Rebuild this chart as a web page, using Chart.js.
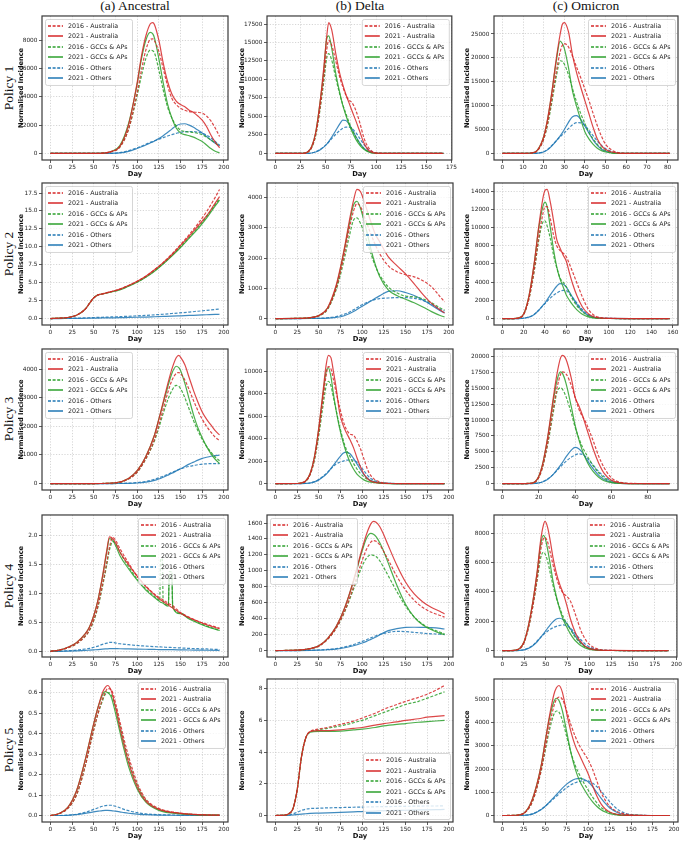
<!DOCTYPE html>
<html><head><meta charset="utf-8">
<script src="https://cdn.jsdelivr.net/npm/chart.js@4.4.1/dist/chart.umd.min.js"></script>
<style>
body{margin:0;background:#fff;width:685px;height:842px;position:relative;overflow:hidden;}
canvas{position:absolute;}
.ct{position:absolute;top:-1px;font-family:'Liberation Serif',serif;font-size:13.5px;line-height:14px;color:#111;transform:translateX(-50%);white-space:nowrap;}
.rl{position:absolute;left:9px;font-family:'Liberation Serif',serif;font-size:13.5px;color:#111;transform:translate(-50%,-50%) rotate(-90deg);white-space:nowrap;}
</style></head><body>
<div class="ct" style="left:135px">(a) Ancestral</div>
<div class="ct" style="left:360px">(b) Delta</div>
<div class="ct" style="left:586px">(c) Omicron</div>
<div class="rl" style="top:88px">Policy 1</div>
<div class="rl" style="top:254px">Policy 2</div>
<div class="rl" style="top:419px">Policy 3</div>
<div class="rl" style="top:586px">Policy 4</div>
<div class="rl" style="top:750px">Policy 5</div>
<script>
// ---------- series labels ----------
const LABELS = ['2016 - Australia','2021 - Australia','2016 - GCCs & APs','2021 - GCCs & APs','2016 - Others','2021 - Others'];

// ---------- tick labels ----------
const X_200 = [0,25,50,75,100,125,150,175,200];
const X_175 = [0,25,50,75,100,125,150,175];
const X_80s10 = [0,10,20,30,40,50,60,70,80];
const X_160 = [0,20,40,60,80,100,120,140,160];
const X_80s20 = [0,20,40,60,80];
const Y_A1 = [0,2000,4000,6000,8000];
const Y_B1 = [0,2500,5000,7500,10000,12500,15000,17500];
const Y_C1 = [0,5000,10000,15000,20000,25000];
const Y_A2 = [0,2.5,5,7.5,10,12.5,15,17.5];
const Y_B2 = [0,1000,2000,3000,4000];
const Y_C2 = [0,2000,4000,6000,8000,10000,12000,14000];
const Y_A3 = [0,1000,2000,3000,4000];
const Y_B3 = [0,2000,4000,6000,8000,10000,12000];
const Y_C3 = [0,2500,5000,7500,10000,12500,15000,17500,20000];
const Y_A4 = [0,0.5,1,1.5,2];
const Y_B4 = [0,200,400,600,800,1000,1200,1400,1600];
const Y_C4 = [0,2000,4000,6000,8000];
const Y_A5 = [0,0.1,0.2,0.3,0.4,0.5,0.6];
const Y_B5 = [0,2,4,6,8];
const Y_C5 = [0,1000,2000,3000,4000,5000];

// ---------- Policy 1 ----------
const A1_day   = [0,25,50,60,70,80,90,100,105,110,115,118,120,125,130,135,140,145,150,155,160,165,170,175,180,185,190,195];
const A1_aus16 = [0,0,0,20,120,450,1700,4300,5900,7300,8050,8100,7950,7200,6000,4800,3900,3450,3200,3050,2950,2920,2900,2850,2650,2300,1800,1200];
const A1_aus21 = [0,0,0,20,130,500,2000,5000,6900,8300,9150,9250,9100,8000,6400,5100,4200,3700,3450,3300,3050,2900,2650,2350,1900,1300,800,400];
const A1_gcc16 = [0,0,0,20,120,450,1700,4100,5500,6700,7300,7250,7100,5900,4500,3300,2500,1950,1650,1550,1520,1480,1420,1330,1150,950,750,550];
const A1_gcc21 = [0,0,0,20,140,550,2100,4900,6700,8000,8550,8450,8150,6700,5000,3500,2500,1800,1450,1330,1250,1150,1000,850,600,350,150,50];
const A1_oth16 = [0,0,0,0,10,60,200,400,520,650,780,850,900,1000,1120,1230,1330,1420,1500,1530,1550,1540,1500,1430,1300,1100,850,600];
const A1_oth21 = [0,0,0,0,5,40,150,350,470,600,740,820,880,1050,1250,1480,1720,1950,2080,2100,2000,1850,1650,1450,1200,950,720,550];

const B1_day   = [0,20,28,32,36,40,44,48,51,53,56,60,64,67,70,73,76,80,84,88,92,96,100,110,130,167];
const B1_aus16 = [0,0,25,180,800,2500,5800,10200,14000,15300,14600,12500,10300,9000,7900,7200,6900,5800,4100,2100,900,300,80,10,0,0];
const B1_aus21 = [0,0,30,200,900,2800,6500,11500,15800,17700,16700,13500,10800,9300,8000,6900,5800,4400,2900,1400,500,150,40,5,0,0];
const B1_gcc16 = [0,0,25,170,780,2400,5600,9600,12900,13500,12600,10200,8000,6600,5400,4300,3300,2200,1300,650,280,100,30,3,0,0];
const B1_gcc21 = [0,0,30,200,900,2800,6500,11000,15500,15900,14200,10800,8200,6500,5200,4000,3000,1900,1100,550,250,80,20,2,0,0];
const B1_oth16 = [0,0,0,5,80,230,500,900,1250,1550,2000,2600,3100,3400,3550,3550,3400,2800,2000,1200,600,250,80,5,0,0];
const B1_oth21 = [0,0,0,10,60,200,450,850,1250,1600,2200,3100,4000,4500,4450,4000,3300,2300,1400,700,300,100,30,2,0,0];

const C1_day   = [0,10,14,17,20,22,24,26,28,29,30,32,34,36,38,40,42,44,46,48,50,53,56,60,70,81];
const C1_aus16 = [0,0,80,600,3000,6500,11500,16800,21300,22600,23000,22300,20300,18000,15800,13400,11000,8300,5800,3600,1900,700,200,30,0,0];
const C1_aus21 = [0,0,100,700,3500,7500,13000,19500,25000,27000,27400,25500,20500,16800,13800,11000,8200,5400,3000,1600,850,300,80,10,0,0];
const C1_gcc16 = [0,0,80,600,3000,6200,10800,15800,19400,19300,18700,16500,13500,10700,8300,6200,4400,3000,1900,1100,600,200,50,5,0,0];
const C1_gcc21 = [0,0,100,700,3500,7300,12800,19000,23500,23000,22000,18000,13000,9800,7000,4500,3000,1900,1100,600,300,80,20,2,0,0];
const C1_oth16 = [0,0,0,60,350,900,1700,2600,3500,3900,4300,5200,6000,6450,6400,5800,4800,3700,2600,1700,1000,400,120,20,0,0];
const C1_oth21 = [0,0,0,50,300,800,1600,2600,3700,4300,5000,6500,7700,7900,7100,5700,4200,2800,1700,900,450,150,40,5,0,0];

// ---------- Policy 2 ----------
const A2_day   = [0,10,20,30,40,45,50,55,60,70,80,90,100,110,120,130,140,150,160,170,180,190,195];
const A2_aus16 = [0,0.05,0.15,0.45,1.3,2.1,2.9,3.3,3.45,3.75,4.1,4.6,5.2,5.9,6.8,7.8,9.0,10.3,11.7,13.2,14.9,16.9,18.0];
const A2_aus21 = [0,0.05,0.15,0.45,1.3,2.1,2.9,3.3,3.45,3.75,4.1,4.6,5.2,5.9,6.8,7.8,8.9,10.2,11.5,12.9,14.3,16.1,17.0];
const A2_gcc16 = [0,0.05,0.15,0.45,1.3,2.1,2.9,3.3,3.45,3.72,4.05,4.55,5.1,5.8,6.65,7.65,8.8,10.0,11.3,12.7,14.2,15.9,16.7];
const A2_gcc21 = [0,0.05,0.15,0.45,1.3,2.1,2.9,3.3,3.42,3.7,4.0,4.5,5.05,5.75,6.6,7.6,8.7,9.9,11.2,12.5,14.0,15.7,16.5];
const A2_oth16 = [0,0.01,0.03,0.06,0.09,0.11,0.14,0.16,0.18,0.22,0.27,0.32,0.38,0.44,0.52,0.6,0.7,0.8,0.9,1.02,1.14,1.26,1.32];
const A2_oth21 = [0,0,0.01,0.02,0.04,0.05,0.06,0.07,0.08,0.1,0.12,0.15,0.18,0.21,0.25,0.29,0.33,0.38,0.43,0.48,0.53,0.58,0.6];

const B2_day   = [0,25,40,50,60,70,75,80,85,90,94,98,102,106,110,115,120,130,140,150,160,170,180,190,195];
const B2_aus16 = [0,5,28,90,320,1000,1550,2200,2950,3550,3800,3700,3400,3100,2800,2450,2150,1750,1550,1450,1380,1250,1050,720,550];
const B2_aus21 = [0,5,30,100,350,1100,1700,2400,3200,3900,4270,4200,3900,3550,3200,2800,2550,2050,1750,1480,1150,800,500,280,190];
const B2_gcc16 = [0,4,25,85,300,950,1450,2050,2700,3250,3330,3150,2850,2500,2150,1750,1450,1050,850,740,720,650,520,350,280];
const B2_gcc21 = [0,5,30,100,340,1050,1650,2350,3100,3750,3880,3650,3250,2800,2300,1800,1400,950,760,640,520,380,230,100,50];
const B2_oth16 = [0,0,3,8,25,65,100,150,210,290,360,430,490,540,590,630,660,680,690,690,670,600,470,310,250];
const B2_oth21 = [0,0,2,5,15,40,60,100,160,230,300,370,440,510,580,670,750,900,920,860,760,610,440,260,180];

const C2_day   = [0,10,15,20,25,30,34,38,40,42,45,48,51,54,57,60,63,66,70,75,80,85,90,100,120,157];
const C2_aus16 = [0,0,40,450,2200,5400,8800,11500,12300,12300,11000,9200,8000,7500,7200,6800,6000,5100,3900,2400,1150,450,160,20,0,0];
const C2_aus21 = [0,0,50,500,2500,6200,10000,13200,14100,14200,12800,10800,8700,7800,7000,6300,5000,3800,2500,1300,600,220,70,10,0,0];
const C2_gcc16 = [0,0,40,450,2200,5300,8500,10600,10750,10200,8800,7000,5600,4500,4000,3500,2800,2100,1400,750,330,130,40,5,0,0];
const C2_gcc21 = [0,0,50,500,2500,6100,9800,12300,12800,12300,10000,7600,5700,4400,3500,2600,2000,1500,950,480,210,80,30,3,0,0];
const C2_oth16 = [0,0,0,40,170,480,900,1400,1650,1900,2250,2550,2800,3000,3100,3050,2750,2300,1700,1000,500,200,80,10,0,0];
const C2_oth21 = [0,0,0,30,150,450,900,1450,1700,2050,2600,3100,3550,3850,3800,3450,2900,2300,1550,850,400,160,60,10,0,0];

// ---------- Policy 3 ----------
const A3_day   = [0,25,50,75,90,100,110,120,125,130,135,140,145,148,150,155,160,165,170,175,180,185,190,195];
const A3_aus16 = [0,0,2,25,160,400,870,1550,2050,2600,3150,3600,3850,3880,3850,3620,3280,2900,2550,2250,2000,1800,1620,1500];
const A3_aus21 = [0,0,2,30,180,450,950,1700,2250,2850,3450,4000,4400,4480,4420,4150,3700,3250,2850,2500,2250,2050,1850,1700];
const A3_gcc16 = [0,0,2,25,160,400,860,1500,1950,2450,2900,3250,3430,3400,3320,3000,2600,2200,1850,1550,1300,1100,930,800];
const A3_gcc21 = [0,0,2,30,180,450,950,1700,2250,2800,3350,3850,4100,4050,3950,3500,2950,2400,1950,1600,1300,1050,850,700];
const A3_oth16 = [0,0,0,3,15,35,75,150,200,260,320,390,450,490,510,560,600,630,660,680,690,700,700,700];
const A3_oth21 = [0,0,0,2,8,20,50,110,160,220,290,360,440,490,520,600,680,750,820,880,920,955,980,990];

const B3_day   = [0,25,30,35,40,45,50,55,58,61,64,67,70,74,78,82,86,90,94,98,102,106,110,120,130,150,195];
const B3_aus16 = [0,10,50,220,800,2200,4600,7600,9400,10400,10200,9200,8100,6800,5600,4800,4400,4300,3800,3100,2200,1300,700,150,20,0,0];
const B3_aus21 = [0,10,60,250,900,2400,5000,8300,10300,11400,11200,9900,8500,6300,5200,4500,3900,3200,2300,1500,850,450,220,50,10,0,0];
const B3_gcc16 = [0,8,50,210,800,2100,4300,7000,8500,9100,8700,7600,6500,5100,3900,3000,2400,1800,1300,900,600,380,220,60,10,0,0];
const B3_gcc21 = [0,10,60,240,900,2400,4900,8000,9800,10300,9500,7900,6500,4900,3700,2700,1900,1300,850,550,330,200,120,30,5,0,0];
const B3_oth16 = [0,0,3,20,60,170,370,650,850,1080,1320,1550,1750,1900,2000,2080,2120,2080,1900,1550,1150,750,450,120,25,0,0];
const B3_oth21 = [0,0,2,15,50,150,330,600,800,1050,1350,1650,1950,2350,2700,2800,2650,2250,1750,1250,800,480,280,70,15,0,0];

const C3_day   = [0,10,15,18,20,22,25,28,30,32,33,35,38,40,42,44,46,48,50,53,56,60,65,70,92];
const C3_aus16 = [0,0,30,250,950,2500,6500,11800,15000,17200,17600,17300,15400,13600,11800,10600,9600,8200,6700,4300,2500,900,200,30,0];
const C3_aus21 = [0,0,40,300,1100,2900,7500,13500,17200,19800,20200,19600,16500,13600,12300,10800,9000,7200,5400,3200,1600,520,100,10,0];
const C3_gcc16 = [0,0,30,250,950,2500,6300,11200,14400,15100,14900,13700,11000,8900,7200,5800,4700,3700,2800,1700,900,300,60,10,0];
const C3_gcc21 = [0,0,40,300,1100,2900,7300,13000,16200,17600,17400,15800,12000,9200,7000,5200,3800,2700,1900,1000,450,150,30,5,0];
const C3_oth16 = [0,0,0,40,120,280,750,1450,2050,2650,2950,3500,4200,4500,4700,4600,4200,3600,2900,1900,1100,400,100,15,0];
const C3_oth21 = [0,0,0,30,100,250,700,1450,2150,2900,3300,4200,5300,5700,5500,4900,4000,3100,2300,1300,650,200,40,5,0];

// ---------- Policy 4 ----------
const A4_day   = [0,10,20,30,40,45,50,55,60,65,68,72,76,80,90,100,110,120,126,127,129,130,136,137,140,141,150,160,170,180,195];
const A4_aus16 = [0,0.02,0.06,0.13,0.26,0.37,0.55,0.8,1.15,1.55,1.8,1.97,1.9,1.78,1.53,1.3,1.13,0.99,0.92,0.91,0.9,0.89,0.83,0.82,0.8,0.79,0.67,0.59,0.52,0.47,0.4];
const A4_aus21 = [0,0.02,0.07,0.15,0.3,0.42,0.62,0.9,1.3,1.75,1.98,1.95,1.85,1.72,1.5,1.3,1.12,0.98,0.9,0.89,0.87,0.86,0.8,0.79,0.76,0.75,0.66,0.58,0.52,0.46,0.39];
const A4_gcc16 = [0,0.02,0.06,0.13,0.26,0.36,0.53,0.78,1.12,1.5,1.75,1.9,1.85,1.72,1.47,1.25,1.08,0.95,0.88,1.6,1.6,0.86,0.8,1.38,1.38,0.77,0.66,0.57,0.5,0.44,0.36];
const A4_gcc21 = [0,0.02,0.07,0.15,0.3,0.42,0.62,0.9,1.28,1.72,1.95,1.92,1.8,1.66,1.43,1.23,1.06,0.93,0.86,0.85,0.84,0.83,0.78,1.3,1.3,0.76,0.65,0.56,0.49,0.43,0.36];
const A4_oth16 = [0,0.002,0.01,0.02,0.04,0.05,0.07,0.09,0.12,0.14,0.155,0.155,0.14,0.13,0.115,0.1,0.09,0.08,0.075,0.075,0.073,0.072,0.068,0.067,0.065,0.064,0.058,0.05,0.045,0.04,0.03];
const A4_oth21 = [0,0,0.003,0.008,0.015,0.02,0.025,0.03,0.037,0.042,0.045,0.046,0.045,0.044,0.041,0.038,0.035,0.032,0.03,0.03,0.03,0.03,0.028,0.028,0.027,0.027,0.025,0.022,0.02,0.018,0.015];

const B4_day   = [0,25,40,50,60,70,80,90,100,105,110,113,116,120,125,130,140,150,160,170,180,190,195];
const B4_aus16 = [0,5,25,55,140,280,500,800,1130,1270,1360,1380,1370,1330,1240,1140,930,760,630,540,480,440,420];
const B4_aus21 = [0,5,25,60,150,300,540,880,1280,1460,1590,1620,1610,1560,1450,1320,1070,860,710,610,540,490,460];
const B4_gcc16 = [0,5,25,55,140,280,490,770,1060,1160,1200,1195,1180,1130,1040,940,740,560,420,330,270,230,210];
const B4_gcc21 = [0,5,25,60,150,300,540,870,1250,1410,1470,1460,1430,1360,1240,1100,820,580,420,320,260,215,200];
const B4_oth16 = [0,0,3,7,14,25,45,75,115,135,160,172,185,200,215,228,240,238,228,218,210,205,200];
const B4_oth21 = [0,0,2,5,10,18,35,60,95,115,140,155,170,195,225,250,275,290,292,290,287,278,270];

const C4_day   = [0,10,15,20,25,30,35,40,44,47,49,52,55,58,62,66,70,74,78,82,86,90,95,100,110,125,150,191];
const C4_aus16 = [0,0,25,130,550,1550,3000,4900,6800,7600,7700,7400,6700,5900,5000,4300,3900,3700,3400,2800,2100,1400,800,420,100,10,0,0];
const C4_aus21 = [0,0,30,150,600,1700,3300,5400,7500,8500,8800,8400,7500,6400,5300,4500,3900,3100,2200,1500,950,600,300,150,30,5,0,0];
const C4_gcc16 = [0,0,25,130,550,1550,3000,4800,6300,6700,6600,6100,5300,4500,3600,2900,2300,1850,1450,1050,750,480,250,120,25,3,0,0];
const C4_gcc21 = [0,0,30,150,600,1700,3300,5300,7200,7850,7700,6900,5900,4800,3700,2800,2100,1600,1150,800,550,350,180,80,15,2,0,0];
const C4_oth16 = [0,0,0,15,60,170,360,650,900,1080,1180,1320,1450,1550,1650,1720,1750,1700,1550,1300,1000,750,450,250,60,5,0,0];
const C4_oth21 = [0,0,0,10,50,150,330,600,900,1120,1280,1520,1750,1950,2150,2200,2100,1850,1500,1150,800,550,300,150,30,3,0,0];

// ---------- Policy 5 ----------
const A5_day   = [0,10,20,30,40,45,50,55,60,63,66,70,75,80,85,90,100,110,125,150,175,195];
const A5_aus16 = [0,0.008,0.035,0.1,0.24,0.33,0.42,0.5,0.57,0.6,0.62,0.615,0.55,0.46,0.37,0.29,0.16,0.08,0.035,0.012,0.004,0.002];
const A5_aus21 = [0,0.01,0.04,0.12,0.27,0.36,0.45,0.53,0.6,0.625,0.635,0.61,0.53,0.43,0.34,0.26,0.14,0.07,0.03,0.01,0.003,0.002];
const A5_gcc16 = [0,0.008,0.035,0.1,0.24,0.33,0.42,0.5,0.56,0.59,0.6,0.59,0.53,0.44,0.35,0.27,0.15,0.075,0.03,0.01,0.003,0.002];
const A5_gcc21 = [0,0.01,0.04,0.12,0.27,0.36,0.45,0.53,0.59,0.605,0.6,0.58,0.5,0.41,0.32,0.24,0.13,0.065,0.025,0.008,0.003,0.002];
const A5_oth16 = [0,0,0.002,0.006,0.015,0.022,0.03,0.038,0.045,0.048,0.05,0.05,0.045,0.038,0.03,0.024,0.014,0.008,0.004,0.002,0.001,0.001];
const A5_oth21 = [0,0,0.001,0.004,0.01,0.014,0.018,0.021,0.024,0.025,0.025,0.024,0.021,0.018,0.014,0.011,0.007,0.004,0.002,0.001,0,0];

const B5_day   = [0,10,15,20,25,30,35,40,50,60,75,90,100,115,125,140,150,165,175,185,195];
const B5_aus16 = [0,0.02,0.1,0.4,1.6,3.7,4.9,5.3,5.45,5.55,5.75,5.95,6.15,6.45,6.7,7.0,7.2,7.45,7.65,7.9,8.2];
const B5_aus21 = [0,0.02,0.1,0.4,1.6,3.7,4.9,5.3,5.35,5.35,5.4,5.5,5.55,5.7,5.8,5.9,6.0,6.1,6.2,6.25,6.3];
const B5_gcc16 = [0,0.02,0.1,0.4,1.6,3.7,4.9,5.25,5.4,5.5,5.65,5.85,6.0,6.3,6.5,6.8,7.0,7.2,7.4,7.6,7.8];
const B5_gcc21 = [0,0.02,0.1,0.4,1.6,3.7,4.9,5.25,5.3,5.3,5.32,5.4,5.45,5.55,5.65,5.75,5.8,5.88,5.92,5.96,6.0];
const B5_oth16 = [0,0.01,0.03,0.1,0.2,0.32,0.4,0.44,0.46,0.48,0.5,0.52,0.53,0.55,0.56,0.57,0.58,0.59,0.6,0.6,0.61];
const B5_oth21 = [0,0,0.01,0.03,0.06,0.09,0.11,0.13,0.15,0.17,0.2,0.23,0.25,0.28,0.3,0.32,0.33,0.35,0.36,0.37,0.38];

const C5_day   = [0,15,25,35,45,50,55,60,63,66,70,75,80,85,90,95,100,105,110,115,120,125,135,150,175,195];
const C5_aus16 = [0,8,90,600,1900,2900,3900,4700,5000,5100,5000,4500,3900,3400,3000,2700,2400,2000,1500,1000,650,400,150,30,0,0];
const C5_aus21 = [0,10,100,700,2100,3200,4300,5200,5500,5600,5300,4400,3600,3000,2600,2200,1800,1300,850,500,280,150,40,5,0,0];
const C5_gcc16 = [0,8,90,600,1900,2800,3700,4350,4500,4450,4100,3400,2700,2150,1750,1400,1100,800,550,350,220,130,40,5,0,0];
const C5_gcc21 = [0,10,100,700,2100,3200,4200,4900,5050,4950,4500,3600,2700,2000,1500,1150,850,600,400,250,150,80,20,3,0,0];
const C5_oth16 = [0,0,8,70,260,400,560,730,830,930,1050,1200,1320,1410,1470,1500,1490,1400,1250,1050,820,600,250,40,0,0];
const C5_oth21 = [0,0,5,60,250,400,580,780,900,1020,1180,1350,1480,1570,1600,1560,1450,1250,1000,750,520,330,110,15,0,0];

// ---------- panel table ----------
const panels = [
 {col:0,row:0,day:A1_day,s:[A1_aus16,A1_aus21,A1_gcc16,A1_gcc21,A1_oth16,A1_oth21],xt:X_200,yt:Y_A1,dec:0,leg:'tl'},
 {col:1,row:0,day:B1_day,s:[B1_aus16,B1_aus21,B1_gcc16,B1_gcc21,B1_oth16,B1_oth21],xt:X_175,yt:Y_B1,dec:0,leg:'tr'},
 {col:2,row:0,day:C1_day,s:[C1_aus16,C1_aus21,C1_gcc16,C1_gcc21,C1_oth16,C1_oth21],xt:X_80s10,yt:Y_C1,dec:0,leg:'tr'},
 {col:0,row:1,day:A2_day,s:[A2_aus16,A2_aus21,A2_gcc16,A2_gcc21,A2_oth16,A2_oth21],xt:X_200,yt:Y_A2,dec:1,leg:'tl'},
 {col:1,row:1,day:B2_day,s:[B2_aus16,B2_aus21,B2_gcc16,B2_gcc21,B2_oth16,B2_oth21],xt:X_200,yt:Y_B2,dec:0,leg:'tr'},
 {col:2,row:1,day:C2_day,s:[C2_aus16,C2_aus21,C2_gcc16,C2_gcc21,C2_oth16,C2_oth21],xt:X_160,yt:Y_C2,dec:0,leg:'tr'},
 {col:0,row:2,day:A3_day,s:[A3_aus16,A3_aus21,A3_gcc16,A3_gcc21,A3_oth16,A3_oth21],xt:X_200,yt:Y_A3,dec:0,leg:'tl'},
 {col:1,row:2,day:B3_day,s:[B3_aus16,B3_aus21,B3_gcc16,B3_gcc21,B3_oth16,B3_oth21],xt:X_200,yt:Y_B3,dec:0,leg:'tr'},
 {col:2,row:2,day:C3_day,s:[C3_aus16,C3_aus21,C3_gcc16,C3_gcc21,C3_oth16,C3_oth21],xt:X_80s20,yt:Y_C3,dec:0,leg:'tr'},
 {col:0,row:3,day:A4_day,s:[A4_aus16,A4_aus21,A4_gcc16,A4_gcc21,A4_oth16,A4_oth21],xt:X_200,yt:Y_A4,dec:1,leg:'tr',ymax:2.36},
 {col:1,row:3,day:B4_day,s:[B4_aus16,B4_aus21,B4_gcc16,B4_gcc21,B4_oth16,B4_oth21],xt:X_200,yt:Y_B4,dec:0,leg:'tl'},
 {col:2,row:3,day:C4_day,s:[C4_aus16,C4_aus21,C4_gcc16,C4_gcc21,C4_oth16,C4_oth21],xt:X_200,yt:Y_C4,dec:0,leg:'tr'},
 {col:0,row:4,day:A5_day,s:[A5_aus16,A5_aus21,A5_gcc16,A5_gcc21,A5_oth16,A5_oth21],xt:X_200,yt:Y_A5,dec:1,leg:'tr'},
 {col:1,row:4,day:B5_day,s:[B5_aus16,B5_aus21,B5_gcc16,B5_gcc21,B5_oth16,B5_oth21],xt:X_200,yt:Y_B5,dec:0,leg:'br'},
 {col:2,row:4,day:C5_day,s:[C5_aus16,C5_aus21,C5_gcc16,C5_gcc21,C5_oth16,C5_oth21],xt:X_200,yt:Y_C5,dec:0,leg:'tr'}
];

// ---------- layout & style ----------
const COLS = [{l:42,r:228,yw:25},{l:267,r:453,yw:29},{l:494,r:678,yw:31}];
const ROWS = [{t:15,b:160},{t:182,b:325},{t:348,b:490},{t:514,b:657},{t:678,b:822}];
const XH = 18, PT = 4, PR = 5;
const STY = [
 {c:'214,39,40',dash:true},{c:'214,39,40',dash:false},
 {c:'44,160,44',dash:true},{c:'44,160,44',dash:false},
 {c:'31,119,180',dash:true},{c:'31,119,180',dash:false}];
const DASH = [3,1.6];
const FONT = "'DejaVu Sans', sans-serif";
const colorOf = (i, a) => 'rgba(' + STY[i].c + ',' + a + ')';

const framePlugin = {
  id:'frame',
  afterDatasetsDraw(chart, args, opts){
    const ctx = chart.ctx, a = chart.chartArea, pos = opts.pos || 'tr';
    const W = 87, H = 66;
    const x = pos[1]==='l' ? a.left+3 : a.right-3-W;
    const y = pos[0]==='t' ? a.top+3 : a.bottom-3-H;
    ctx.save();
    ctx.beginPath();
    if (ctx.roundRect) ctx.roundRect(x+0.5,y+0.5,W,H,2); else ctx.rect(x+0.5,y+0.5,W,H);
    ctx.fillStyle='rgba(255,255,255,0.8)'; ctx.fill();
    ctx.strokeStyle='#cccccc'; ctx.lineWidth=0.8; ctx.stroke();
    for (let i = 0; i < LABELS.length; i++) {
      const yy = Math.round(y + 7 + i*10.5);
      ctx.save();
      ctx.beginPath();
      ctx.setLineDash(STY[i].dash ? DASH : []);
      ctx.strokeStyle = colorOf(i, 1);
      ctx.lineWidth = 1.5;
      ctx.lineCap = 'butt';
      ctx.moveTo(x+3,yy); ctx.lineTo(x+18,yy);
      ctx.stroke();
      ctx.restore();
    }
    ctx.font = "6.3px " + FONT; ctx.textBaseline='middle'; ctx.textAlign='left';
    ctx.fillStyle='#222';
    for (let i = 0; i < LABELS.length; i++) {
      const yy = Math.round(y + 7 + i*10.5);
      ctx.fillText(LABELS[i], x+23, yy);
    }
    ctx.strokeStyle='#3a3a3a'; ctx.lineWidth=1.2; ctx.setLineDash([]);
    ctx.strokeRect(a.left, a.top, a.right-a.left, a.bottom-a.top);
    ctx.restore();
  }
};
Chart.register(framePlugin);

panels.forEach(p => {
  const col = COLS[p.col], row = ROWS[p.row];
  const w = col.yw + (col.r-col.l) + PR, h = PT + (row.b-row.t) + XH;
  const cv = document.createElement('canvas');
  cv.width = w; cv.height = h;
  cv.style.left = (col.l-col.yw)+'px'; cv.style.top = (row.t-PT)+'px';
  cv.style.width = w+'px'; cv.style.height = h+'px';
  document.body.appendChild(cv);
  const d0 = p.day[0], dN = p.day[p.day.length-1];
  const xmin = d0 - 0.05*(dN-d0), xmax = dN + 0.05*(dN-d0);
  const all = [].concat(...p.s);
  const mn = Math.min(...all), mx = Math.max(...all);
  const ymin = mn - 0.05*(mx-mn);
  const ymax = p.ymax !== undefined ? p.ymax : mx + 0.05*(mx-mn);
  const grid = {color:'#c4c4c4', lineWidth:0.7, tickLength:3, tickColor:'#333', tickWidth:0.8, tickBorderDash:[]};
  const border = {display:false, dash:[1.2,1.6]};
  new Chart(cv, {
    type:'line',
    data:{datasets: p.s.map((arr,i)=>({
      label: LABELS[i],
      data: p.day.map((d,j)=>({x:d, y:arr[j]})),
      borderColor: colorOf(i, 0.85),
      borderDash: STY[i].dash ? DASH : [],
      borderWidth: 1.2, pointRadius: 0, fill:false,
      cubicInterpolationMode:'monotone'
    }))},
    options:{
      responsive:false, animation:false, devicePixelRatio:1,
      layout:{padding:{top:PT,right:PR,left:0,bottom:0}},
      plugins:{legend:{display:false}, tooltip:{enabled:false}, frame:{pos:p.leg}},
      scales:{
        x:{type:'linear', min:xmin, max:xmax,
           afterBuildTicks: s => { s.ticks = p.xt.filter(v=>v>=s.min && v<=s.max).map(v=>({value:v})); },
           afterFit: s => { s.height = XH; },
           ticks:{font:{size:5.8,family:FONT}, color:'#222', padding:1, maxRotation:0, autoSkip:false, callback:v=>String(v)},
           grid, border,
           title:{display:true, text:'Day', font:{size:6.8,weight:'bold',family:FONT}, color:'#111', padding:{top:0,bottom:0}}},
        y:{type:'linear', min:ymin, max:ymax,
           afterBuildTicks: s => { s.ticks = p.yt.filter(v=>v>=s.min && v<=s.max).map(v=>({value:v})); },
           afterFit: s => { s.width = col.yw; },
           ticks:{font:{size:5.8,family:FONT}, color:'#222', padding:1.5, autoSkip:false, callback:v=>Number(v).toFixed(p.dec)},
           grid, border,
           title:{display:true, text:'Normalised Incidence', font:{size:6.6,weight:'bold',family:FONT}, color:'#111', padding:{top:0,bottom:0}}}
      }
    }
  });
});
</script>
</body></html>
